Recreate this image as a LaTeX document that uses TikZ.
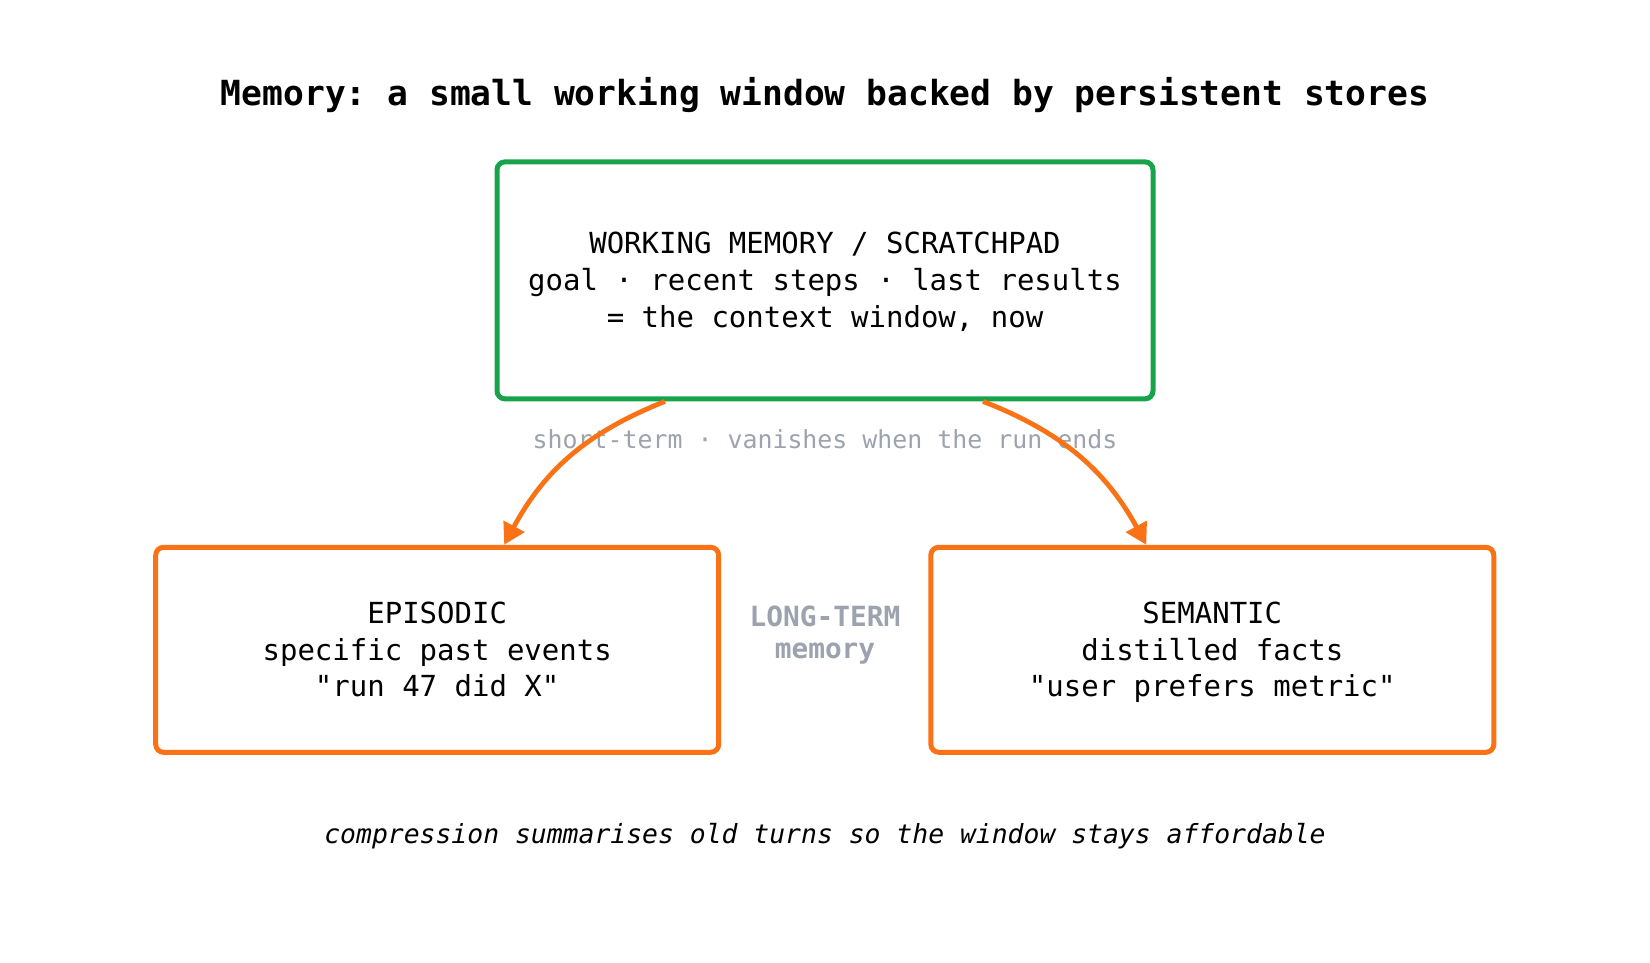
\documentclass[tikz,border=0pt]{standalone}
\usepackage{fontspec}
\setmonofont{DejaVu Sans Mono}
\usepackage{xcolor}
\usepackage{tikz}
\usetikzlibrary{arrows.meta,positioning,calc}
\definecolor{mgreen}{HTML}{16A34A}
\definecolor{morange}{HTML}{F97316}
\definecolor{mgray}{HTML}{9CA3AF}
\tikzset{
  >={Triangle[length=21pt,width=23pt]},
  mtitle/.style={font=\ttfamily\bfseries\fontsize{34.6}{40}\selectfont},
  mtext/.style={font=\ttfamily\fontsize{29}{36.8}\selectfont, align=center,
                text height=105.4pt, text depth=11pt},
  mwork/.style={mtext, draw=mgreen, line width=5pt, rounded corners=8pt,
                minimum width=656pt, minimum height=237pt, inner sep=0pt},
  mstore/.style={mtext, draw=morange, line width=5pt, rounded corners=8pt,
                 minimum width=563pt, minimum height=205pt, inner sep=0pt},
  mnote/.style={mgray, font=\ttfamily\fontsize{24.9}{30}\selectfont},
  mlong/.style={mgray, align=center, font=\ttfamily\bfseries\fontsize{27.8}{31.6}\selectfont},
  mfoot/.style={font=\ttfamily\itshape\fontsize{26.4}{32}\selectfont},
  marrow/.style={->, morange, line width=4.8pt},
}
\begin{document}
\begin{tikzpicture}[x=1pt, y=1pt]

  \useasboundingbox[fill=white] (0,0) rectangle (1650,962);

  % titulo
  \node[mtitle] (title) at (825,867.3)
    {Memory: a small working window backed by persistent stores};

  % caixas
  \node[mwork] (work) at (825,681.6)
    {WORKING MEMORY / SCRATCHPAD\\goal · recent steps · last results\\= the context window, now};
  \node[mstore] (epi) at (437.2,312.2)
    {EPISODIC\\specific past events\\"run 47 did X"};
  \node[mstore] (sem) at (1212.3,312.2)
    {SEMANTIC\\distilled facts\\"user prefers metric"};

  % rotulos
  \node[mnote] (short) at (825,523.2) {short-term · vanishes when the run ends};
  \node[mlong] (long) at (825,327) {LONG-TERM\\memory};

  % setas
  \draw[marrow] ($(work.south)+(-160,0)$) to[bend right=20] ($(epi.north)+(67,0)$);
  \draw[marrow] ($(work.south)+(158,0)$) to[bend left=20] ($(sem.north)+(-66,0)$);

  % nota de rodape
  \node[mfoot] (foot) at (825,125.5)
    {compression summarises old turns so the window stays affordable};

\end{tikzpicture}
\end{document}
